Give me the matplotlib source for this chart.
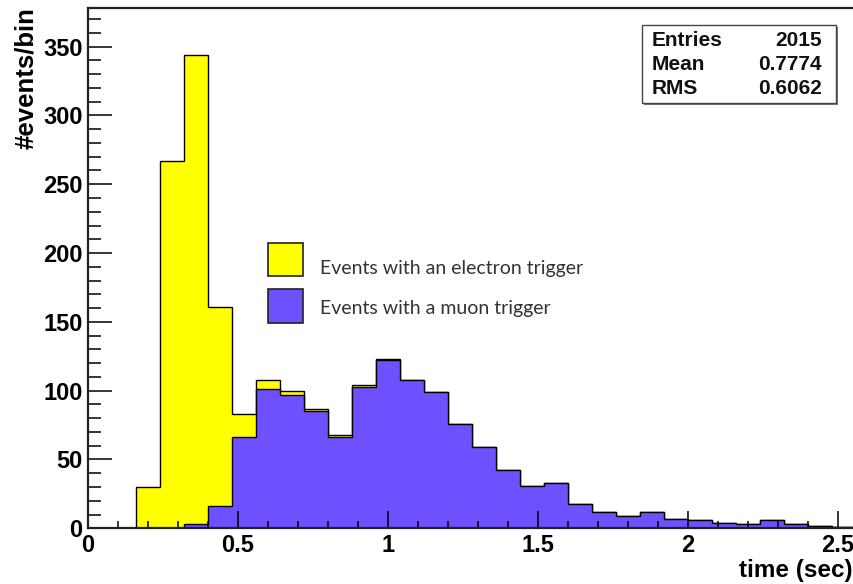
import numpy as np
import matplotlib
matplotlib.use("Agg")
import matplotlib.pyplot as plt
from matplotlib.patches import Rectangle
from matplotlib.ticker import MultipleLocator

# histogram binning: 32 bins of 0.08 s from 0 to 2.56
bin_edges = np.linspace(0.0, 2.56, 33)

# all events (yellow, electron trigger drawn behind)
electron_counts = [0, 0, 30, 267, 344, 161, 83, 108, 100, 87, 68, 104, 123,
                   108, 99, 76, 59, 42, 31, 33, 18, 12, 9, 12, 7, 6, 4, 3,
                   6, 3, 2, 1]
# muon trigger (blue, drawn on top)
muon_counts = [0, 0, 0, 0, 3, 16, 66, 101, 97, 85, 66, 103, 122,
               108, 99, 76, 59, 42, 31, 33, 18, 12, 9, 12, 7, 6, 4, 3,
               6, 3, 2, 1]

xticks = [0, 0.5, 1, 1.5, 2, 2.5]
xtick_labels = ["0", "0.5", "1", "1.5", "2", "2.5"]
yticks = [0, 50, 100, 150, 200, 250, 300, 350]

stats_names = ["Entries", "Mean", "RMS"]
stats_values = ["2015", "0.7774", "0.6062"]

legend_labels = ["Events with an electron trigger", "Events with a muon trigger"]

yellow = "#FFFF00"
blue = "#6E50FF"

W, H = 854, 584
fig = plt.figure(figsize=(W / 100, H / 100), dpi=100)
fig.patch.set_facecolor("white")

# axes frame in pixels: left 88, right ~856 (cut off), top 7.5, bottom 528.3
ax_w, ax_h = 768, 528.3 - 7.5
ax = fig.add_axes([88 / W, 1 - 528.3 / H, ax_w / W, ax_h / H])

ax.stairs(electron_counts, bin_edges, fill=True, color=yellow, zorder=1)
ax.stairs(electron_counts, bin_edges, color="black", linewidth=1.0, zorder=1.1)
ax.stairs(muon_counts, bin_edges, fill=True, color=blue, zorder=1.2)
ax.stairs(muon_counts, bin_edges, color="black", linewidth=1.0, zorder=1.3)

ax.set_xlim(0, 2.56)
ax.set_ylim(0, 1.1 * max(electron_counts))

tick_font = dict(family="Liberation Sans", weight="bold", size=17)
ax.set_xticks(xticks)
ax.set_xticklabels(xtick_labels, fontdict=tick_font)
ax.set_yticks(yticks)
ax.set_yticklabels([str(v) for v in yticks], fontdict=tick_font)
ax.xaxis.set_minor_locator(MultipleLocator(0.1))
ax.yaxis.set_minor_locator(MultipleLocator(10))

ax.tick_params(axis="x", which="major", direction="in", length=12, width=1.1, pad=4)
ax.tick_params(axis="x", which="minor", direction="in", length=5, width=1.1)
ax.tick_params(axis="y", which="major", direction="in", length=17, width=1.1, pad=4)
ax.tick_params(axis="y", which="minor", direction="in", length=9, width=1.1)

for side in ["left", "bottom", "top", "right"]:
    ax.spines[side].set_linewidth(1.6)
    ax.spines[side].set_color("#222222")

ax.set_xlabel("time (sec)", loc="right", fontsize=17.5, fontweight="bold",
              family="Liberation Sans")
ax.xaxis.set_label_coords((853 - 88) / ax_w, (528.3 - 559.5) / ax_h)
ax.set_ylabel("#events/bin", loc="top", fontsize=18.5, fontweight="bold",
              family="Liberation Sans")
ax.yaxis.set_label_coords((38 - 88) / ax_w, 1.0)

# stats box (ROOT style)
fig.patches.append(Rectangle((644 / W, 1 - 105 / H), 194 / W, 78 / H,
                             transform=fig.transFigure, facecolor="#777777",
                             edgecolor="none", zorder=5))
fig.patches.append(Rectangle((641.7 / W, 1 - 102.7 / H), 194 / W, 77.7 / H,
                             transform=fig.transFigure, facecolor="white",
                             edgecolor="#444444", linewidth=1.0, zorder=6))
row_y = [40, 65, 88.5]
for name, val, yy in zip(stats_names, stats_values, row_y):
    fig.text(651.5 / W, 1 - yy / H, name, ha="left", va="center", zorder=7,
             family="Liberation Sans", weight="bold", size=15, color="#111111")
    fig.text(822 / W, 1 - yy / H, val, ha="right", va="center", zorder=7,
             family="Liberation Sans", weight="bold", size=15, color="#111111")

# legend
legend_boxes = [(268.3, 242.7, 35, 33.3), (268.3, 289.3, 35, 34)]
legend_text_y = [268, 309]
for (bx, by, bw, bh), col, lab, ty in zip(legend_boxes, [yellow, blue],
                                          legend_labels, legend_text_y):
    fig.patches.append(Rectangle((bx / W, 1 - (by + bh) / H), bw / W, bh / H,
                                 transform=fig.transFigure, facecolor=col,
                                 edgecolor="#222222", linewidth=1.2, zorder=6))
    fig.text(319.5 / W, 1 - ty / H, lab, ha="left", va="center", zorder=7,
             family="Lato", size=14, color="#333333")

fig.savefig("out.png", dpi=100)
